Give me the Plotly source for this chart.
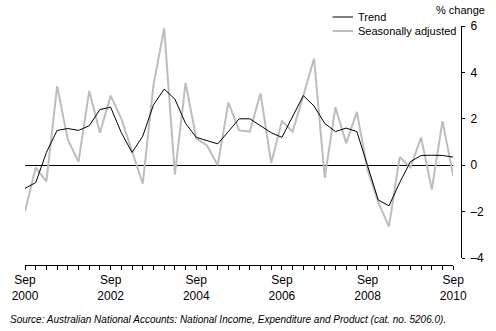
import plotly.graph_objects as go

# Quarters Sep 2000 .. Sep 2010
months = ["Sep", "Dec", "Mar", "Jun"]
quarters = []
for i in range(41):
    m = months[i % 4]
    y = 2000 + (i + 2) // 4
    quarters.append(f"{m} {y}")

trend = [-1.0, -0.75, 0.55, 1.5, 1.58, 1.5, 1.7, 2.4, 2.5, 1.4,
         0.55, 1.25, 2.6, 3.28, 2.85, 1.8, 1.2, 1.05, 0.92, 1.45,
         2.0, 2.0, 1.7, 1.4, 1.2, 2.1, 3.0, 2.55, 1.8, 1.45,
         1.6, 1.45, -0.05, -1.5, -1.75, -0.75, 0.15, 0.42, 0.43, 0.42,
         0.35]

seas_adj = [-2.0, -0.1, -0.7, 3.4, 1.1, 0.15, 3.2, 1.4, 3.0, 2.0,
            0.6, -0.8, 3.45, 5.9, -0.4, 3.55, 1.15, 0.85, 0.0, 2.7,
            1.5, 1.45, 3.1, 0.1, 1.9, 1.45, 3.0, 4.6, -0.55, 2.5,
            0.95, 2.3, -0.2, -1.6, -2.65, 0.35, -0.1, 1.2, -1.05, 1.9,
            -0.45]

x_idx = list(range(len(quarters)))
major_ticks = [0, 8, 16, 24, 32, 40]
major_text = [quarters[i].replace(" ", "<br>") for i in major_ticks]
y_ticks = [-4, -2, 0, 2, 4, 6]

FONT = "Liberation Sans, Arial, sans-serif"
W, H = 496, 331
ML, MR, MT, MB = 21, 27, 26, 66
PW = W - ML - MR
PH = H - MT - MB

def px(x):
    return (x - ML) / PW

def py(y):
    return (H - MB - y) / PH

fig = go.Figure()
fig.add_trace(go.Scatter(x=x_idx, y=seas_adj, mode="lines",
                         line=dict(color="#bdbdbd", width=2),
                         name="Seasonally adjusted", showlegend=False))
fig.add_trace(go.Scatter(x=x_idx, y=trend, mode="lines",
                         line=dict(color="black", width=1),
                         name="Trend", showlegend=False))

fig.update_layout(
    width=W, height=H,
    margin=dict(l=ML, r=MR, t=MT, b=MB, pad=0),
    paper_bgcolor="white", plot_bgcolor="white",
    font=dict(family=FONT, size=12, color="black"),
    xaxis=dict(domain=[0, 440 / PW], range=[0, 40], anchor="free", position=0,
               showgrid=False, zeroline=False, showline=True,
               linecolor="black", linewidth=1,
               ticks="outside", ticklen=4, tickcolor="black", tickwidth=1,
               tickmode="array", tickvals=major_ticks, ticktext=major_text,
               tickfont=dict(size=12),
               minor=dict(ticks="outside", ticklen=4, tickcolor="black",
                          tickwidth=1, tickmode="linear", tick0=0, dtick=1)),
    yaxis=dict(domain=[7 / PH, 1], range=[-4, 6], side="right",
               anchor="free", position=1,
               showgrid=False, zeroline=True, zerolinecolor="black",
               zerolinewidth=1, showline=True, linecolor="black", linewidth=1,
               ticks="outside", ticklen=3, tickcolor="black",
               ticklabelstandoff=3,
               tickmode="array", tickvals=y_ticks,
               ticktext=[str(v).replace("-", "\u2013") for v in y_ticks],
               tickfont=dict(size=12)),
)

# Legend (manual)
fig.add_shape(type="line", xref="paper", yref="paper",
              x0=px(337), x1=px(358), y0=py(17), y1=py(17),
              line=dict(color="black", width=1))
fig.add_shape(type="line", xref="paper", yref="paper",
              x0=px(337), x1=px(358), y0=py(31), y1=py(31),
              line=dict(color="#bdbdbd", width=2))
fig.add_annotation(text="Trend", xref="paper", yref="paper",
                   x=px(361), y=py(17), xanchor="left", yanchor="middle",
                   showarrow=False, font=dict(size=11))
fig.add_annotation(text="Seasonally adjusted", xref="paper", yref="paper",
                   x=px(361), y=py(31), xanchor="left", yanchor="middle",
                   showarrow=False, font=dict(size=11))
fig.add_annotation(text="% change", xref="paper", yref="paper",
                   x=px(496), y=py(10), xanchor="right", yanchor="middle",
                   showarrow=False, font=dict(size=11))
fig.add_annotation(text="<i>Source: Australian National Accounts: National Income, Expenditure and Product (cat. no. 5206.0).</i>",
                   xref="paper", yref="paper",
                   x=px(4), y=py(319), xanchor="left", yanchor="middle",
                   showarrow=False, font=dict(size=10))

fig.write_html("out.html")
